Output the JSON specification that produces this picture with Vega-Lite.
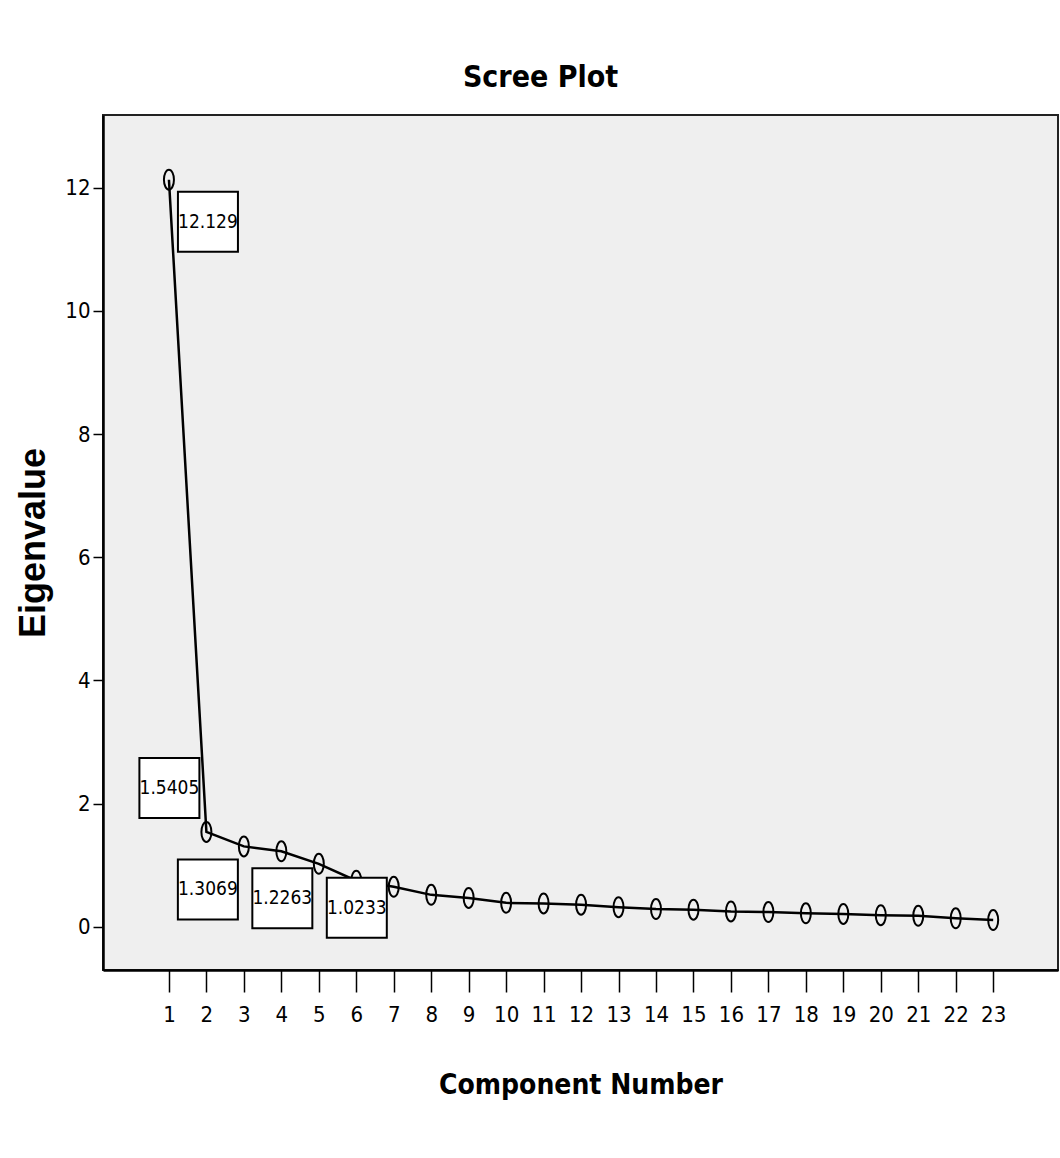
{
  "$schema": "https://vega.github.io/schema/vega-lite/v6.json",
  "autosize": "none",
  "width": 955,
  "height": 855,
  "padding": {"left": 103, "top": 115, "right": 2, "bottom": 188},
  "background": "white",
  "title": {
    "text": "Scree Plot",
    "font": "DejaVu Sans Condensed, Liberation Sans",
    "fontSize": 30,
    "fontWeight": "bold",
    "color": "black",
    "anchor": "middle",
    "dx": -40,
    "offset": 22
  },
  "config": {
    "view": {"fill": "#efefef", "stroke": "#222222", "strokeWidth": 2},
    "axis": {
      "grid": false,
      "domainColor": "black",
      "domainWidth": 2.5,
      "tickColor": "black",
      "tickWidth": 1.5,
      "labelColor": "black",
      "titleColor": "black",
      "labelFont": "DejaVu Sans Condensed, Liberation Sans",
      "labelFontSize": 22
    }
  },
  "data": {
    "values": [
      {"component": 1, "eigenvalue": 12.129},
      {"component": 2, "eigenvalue": 1.5405},
      {"component": 3, "eigenvalue": 1.3069},
      {"component": 4, "eigenvalue": 1.2263},
      {"component": 5, "eigenvalue": 1.0233},
      {"component": 6, "eigenvalue": 0.75},
      {"component": 7, "eigenvalue": 0.65},
      {"component": 8, "eigenvalue": 0.52},
      {"component": 9, "eigenvalue": 0.47},
      {"component": 10, "eigenvalue": 0.39},
      {"component": 11, "eigenvalue": 0.38},
      {"component": 12, "eigenvalue": 0.36},
      {"component": 13, "eigenvalue": 0.32},
      {"component": 14, "eigenvalue": 0.29},
      {"component": 15, "eigenvalue": 0.28},
      {"component": 16, "eigenvalue": 0.25},
      {"component": 17, "eigenvalue": 0.24},
      {"component": 18, "eigenvalue": 0.22},
      {"component": 19, "eigenvalue": 0.21},
      {"component": 20, "eigenvalue": 0.19},
      {"component": 21, "eigenvalue": 0.18},
      {"component": 22, "eigenvalue": 0.14},
      {"component": 23, "eigenvalue": 0.11}
    ]
  },
  "encoding": {
    "x": {
      "field": "component",
      "type": "quantitative",
      "scale": {"domain": [-0.76, 24.73], "nice": false, "zero": false},
      "axis": {
        "values": [1,2,3,4,5,6,7,8,9,10,11,12,13,14,15,16,17,18,19,20,21,22,23],
        "tickSize": 22,
        "labelPadding": 12,
        "title": "Component Number",
        "titleFont": "DejaVu Sans Condensed, Liberation Sans",
        "titleFontSize": 28,
        "titleFontWeight": "bold",
        "titlePadding": 46
      }
    },
    "y": {
      "field": "eigenvalue",
      "type": "quantitative",
      "scale": {"domain": [-0.7, 13.18], "nice": false, "zero": false},
      "axis": {
        "values": [0, 2, 4, 6, 8, 10, 12],
        "tickSize": 10,
        "labelPadding": 3,
        "title": "Eigenvalue",
        "titleFont": "Liberation Sans",
        "titleFontSize": 36,
        "titleFontWeight": "bold",
        "titlePadding": 12
      }
    }
  },
  "layer": [
    {"mark": {"type": "line", "color": "black", "strokeWidth": 2.5}},
    {"mark": {"type": "point", "shape": "M0,-1A0.5,1,0,1,1,0,1A0.5,1,0,1,1,0,-1Z", "size": 400, "filled": false, "stroke": "black", "strokeWidth": 2, "opacity": 1}},
    {
      "transform": [{"filter": "datum.component == 1"}],
      "layer": [
        {"mark": {"type": "point", "shape": "square", "size": 3600, "filled": true, "fill": "white", "stroke": "black", "strokeWidth": 2, "opacity": 1, "xOffset": 39, "yOffset": 42}},
        {"mark": {"type": "text", "font": "DejaVu Sans Condensed, Liberation Sans", "fontSize": 19, "baseline": "middle", "align": "center", "color": "black", "xOffset": 39, "yOffset": 42}, "encoding": {"text": {"field": "eigenvalue", "type": "quantitative"}}}
      ]
    },
    {
      "transform": [{"filter": "datum.component == 2"}],
      "layer": [
        {"mark": {"type": "point", "shape": "square", "size": 3600, "filled": true, "fill": "white", "stroke": "black", "strokeWidth": 2, "opacity": 1, "xOffset": -37, "yOffset": -44}},
        {"mark": {"type": "text", "font": "DejaVu Sans Condensed, Liberation Sans", "fontSize": 19, "baseline": "middle", "align": "center", "color": "black", "xOffset": -37, "yOffset": -44}, "encoding": {"text": {"field": "eigenvalue", "type": "quantitative"}}}
      ]
    },
    {
      "transform": [{"filter": "datum.component == 3"}],
      "layer": [
        {"mark": {"type": "point", "shape": "square", "size": 3600, "filled": true, "fill": "white", "stroke": "black", "strokeWidth": 2, "opacity": 1, "xOffset": -36, "yOffset": 43}},
        {"mark": {"type": "text", "font": "DejaVu Sans Condensed, Liberation Sans", "fontSize": 19, "baseline": "middle", "align": "center", "color": "black", "xOffset": -36, "yOffset": 43}, "encoding": {"text": {"field": "eigenvalue", "type": "quantitative"}}}
      ]
    },
    {
      "transform": [{"filter": "datum.component == 4"}],
      "layer": [
        {"mark": {"type": "point", "shape": "square", "size": 3600, "filled": true, "fill": "white", "stroke": "black", "strokeWidth": 2, "opacity": 1, "xOffset": 1, "yOffset": 47}},
        {"mark": {"type": "text", "font": "DejaVu Sans Condensed, Liberation Sans", "fontSize": 19, "baseline": "middle", "align": "center", "color": "black", "xOffset": 1, "yOffset": 47}, "encoding": {"text": {"field": "eigenvalue", "type": "quantitative"}}}
      ]
    },
    {
      "transform": [{"filter": "datum.component == 5"}],
      "layer": [
        {"mark": {"type": "point", "shape": "square", "size": 3600, "filled": true, "fill": "white", "stroke": "black", "strokeWidth": 2, "opacity": 1, "xOffset": 38, "yOffset": 44}},
        {"mark": {"type": "text", "font": "DejaVu Sans Condensed, Liberation Sans", "fontSize": 19, "baseline": "middle", "align": "center", "color": "black", "xOffset": 38, "yOffset": 44}, "encoding": {"text": {"field": "eigenvalue", "type": "quantitative"}}}
      ]
    }
  ]
}
